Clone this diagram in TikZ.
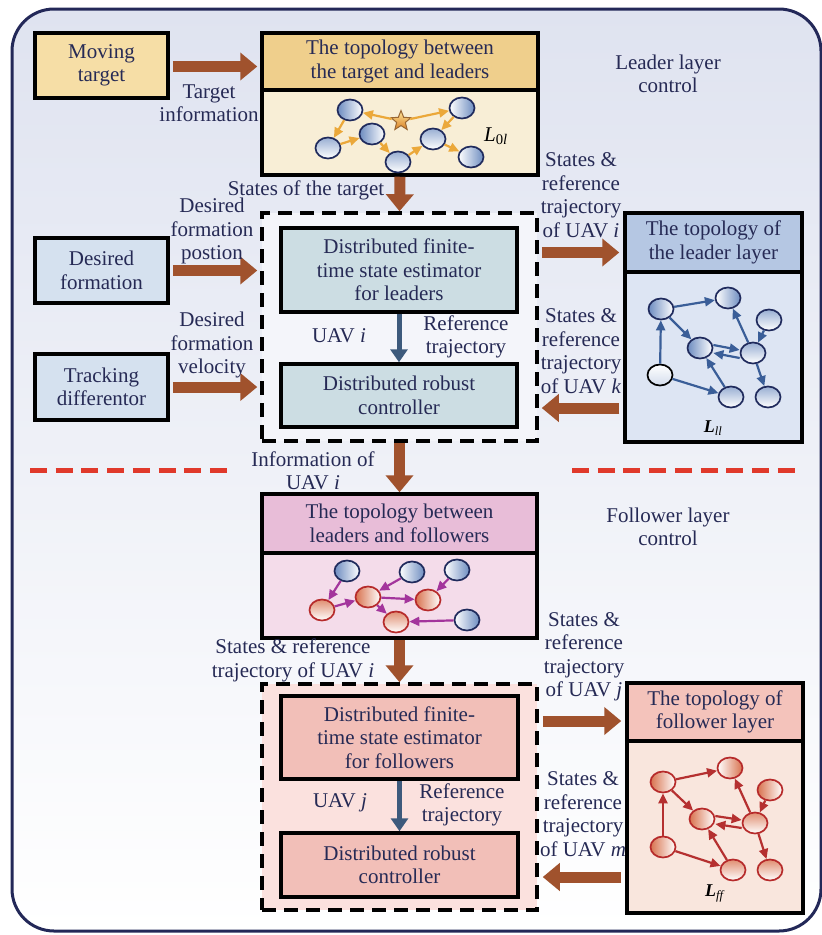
\documentclass[tikz,border=0pt]{standalone}
\usepackage{fontspec}
\setmainfont{Liberation Serif}
\usetikzlibrary{arrows.meta,positioning,calc,shapes.geometric}

\definecolor{navytxt}{HTML}{262A55}
\definecolor{framenavy}{HTML}{232858}
\definecolor{framefill}{HTML}{DFE3F0}
\definecolor{brownarr}{HTML}{A0522D}
\definecolor{steelarr}{HTML}{3D5A7C}
\definecolor{tanbox}{HTML}{F6DEA6}
\definecolor{tanhead}{HTML}{EFCF8C}
\definecolor{tanbody}{HTML}{F8EED6}
\definecolor{bluebox}{HTML}{D5E1EF}
\definecolor{tealbox}{HTML}{CCDDE3}
\definecolor{bluehead}{HTML}{B5C7E3}
\definecolor{bluebody}{HTML}{DDE5F3}
\definecolor{pinkhead}{HTML}{E8BDD8}
\definecolor{pinkbody}{HTML}{F4DCEA}
\definecolor{salmonbox}{HTML}{F2BFB8}
\definecolor{salmonhead}{HTML}{F4C3BB}
\definecolor{peachbody}{HTML}{F9E6DD}
\definecolor{rosefill}{HTML}{FBE1DE}
\definecolor{palefill}{HTML}{F4F5FA}
\definecolor{reddash}{HTML}{E0392B}
\definecolor{orangeedge}{HTML}{EBA83A}
\definecolor{blueedge}{HTML}{3A5E98}
\definecolor{purpleedge}{HTML}{A3359C}
\definecolor{rededge}{HTML}{B53030}
\definecolor{nodenavy}{HTML}{1F2A5C}
\definecolor{nodeshade}{HTML}{6D8CC0}
\definecolor{nodered}{HTML}{B62A2A}
\definecolor{redshade}{HTML}{D8724E}

\newcommand{\txtsz}{\fontsize{21}{23.5}\selectfont}

\begin{document}
\begin{tikzpicture}[x=1pt, y=-1pt,
  box/.style={draw=black, line width=3.5pt, align=center, inner sep=1pt, font=\txtsz, text=navytxt},
  dashbox/.style={draw=black, line width=3.5pt, dash pattern=on 14pt off 8pt},
  lbl/.style={align=center, font=\txtsz, text=navytxt, inner sep=0pt},
  bigarrow/.style={draw=brownarr, line width=11pt, -{Triangle[length=17pt,width=27pt]}},
  steelarrow/.style={draw=steelarr, line width=5pt, -{Triangle[length=13pt,width=17pt]}},
  bnode/.style={ellipse, draw=nodenavy, line width=1.7pt, minimum width=25pt, minimum height=21pt, inner sep=0pt, left color=nodeshade, right color=white},
  bnoder/.style={bnode, left color=white, right color=nodeshade},
  bnodet/.style={bnode, top color=nodeshade!70, bottom color=white},
  fnode/.style={bnode, draw=nodered, left color=redshade, right color=white},
  fnoder/.style={fnode, left color=white, right color=redshade},
  fnodet/.style={fnode, top color=redshade!80, bottom color=white},
  tedge/.style={draw=orangeedge, line width=2.2pt, -{Triangle[length=10pt,width=9pt]}},
  ledge/.style={draw=blueedge, line width=2.2pt, -{Triangle[length=10pt,width=9pt]}},
  pedge/.style={draw=purpleedge, line width=2.2pt, -{Triangle[length=10pt,width=9pt]}},
  fedge/.style={draw=rededge, line width=2.2pt, -{Triangle[length=10pt,width=9pt]}},
  gname/.style={font=\fontsize{18}{20}\selectfont, text=black, inner sep=0pt}
]
\useasboundingbox (0,0) rectangle (822,935);

% frame
\draw[line width=3pt, draw=framenavy, rounded corners=42pt, top color=framefill, bottom color=white]
  (12,9) rectangle (821,931);

% leader layer
\node[box, fill=tanbox, minimum width=133pt, minimum height=65pt] (mov) at (101.5,65.5) {Moving\\target};
\node[box, fill=tanhead, minimum width=276pt, minimum height=57pt] (tlhead) at (400,61.5) {The topology between\\the target and leaders};
\node[box, fill=tanbody, minimum width=276pt, minimum height=85pt] (tlbody) at (400,132.5) {};

\node[dashbox, fill=palefill, minimum width=275pt, minimum height=228pt] (ldash) at (399.5,327) {};
\node[box, fill=tealbox, minimum width=236pt, minimum height=84pt] (est) at (399,270) {Distributed finite-\\time state estimator\\for leaders};
\node[box, fill=tealbox, minimum width=236pt, minimum height=63pt] (ctrl) at (399,395.5) {Distributed robust\\controller};

\node[box, fill=bluebox, minimum width=133pt, minimum height=65pt] (desf) at (101.5,270.5) {Desired\\formation};
\node[box, fill=bluebox, minimum width=133pt, minimum height=66pt] (trk) at (101.5,387) {Tracking\\differentor};

\node[box, fill=bluehead, minimum width=177pt, minimum height=59pt] (llhead) at (713.5,242.5) {The topology of\\the leader layer};
\node[box, fill=bluebody, minimum width=177pt, minimum height=170pt] (llbody) at (713.5,357) {};

% target graph
\node[star, star points=5, star point ratio=2.3, draw=brown!80!black, line width=1pt, top color=yellow!50!orange!40, bottom color=brown!60!orange, minimum size=21pt, inner sep=0pt] (tgt) at (401,121) {};
\node[bnode] (ta) at (350,110) {};
\node[bnoder] (tb) at (462,108) {};
\node[bnodet] (tc) at (328,148) {};
\node[bnode] (td) at (372,134) {};
\node[bnodet] (te) at (398,162) {};
\node[bnodet] (tf) at (433,139) {};
\node[bnoder] (tg) at (471,157) {};
\draw[tedge] (tgt) -- (ta);
\draw[tedge] (tgt) -- (tb);
\draw[tedge] (ta) -- (tc);
\draw[tedge] (tc) -- (td);
\draw[tedge] (td) -- (te);
\draw[tedge] (te) -- (tf);
\draw[tedge] (tb) -- (tf);
\draw[tedge] (tf) -- (tg);
\node[gname, font=\fontsize{21}{22}\selectfont] (l0l) at (496,136) {\textit{L}\textsubscript{0\textit{l}}};

% leader layer graph
\node[bnode] (la) at (661,309) {};
\node[bnoder] (lb) at (728,298) {};
\node[bnodet] (lc) at (769,320) {};
\node[bnode] (ld) at (700,348) {};
\node[bnodet] (le) at (753,353) {};
\node[bnodet, draw=black, top color=white, bottom color=nodeshade!30] (lf) at (660,375) {};
\node[bnodet] (lg) at (731,397) {};
\node[bnodet] (lh) at (768,397) {};
\draw[ledge] (la) -- (lb);
\draw[ledge] (lf) -- (la);
\draw[ledge] (la) -- (ld);
\draw[ledge] ([yshift=3pt]ld.east) -- ([yshift=3pt]le.west);
\draw[ledge] ([yshift=-5pt]le.west) -- ([yshift=-5pt]ld.east);
\draw[ledge] (le) -- (lb);
\draw[ledge] (lc) -- (le);
\draw[ledge] (le) -- (lh);
\draw[ledge] (lf) -- (lg);
\draw[ledge] (lg) -- (ld);
\node[gname] (lll) at (713,428) {\textbf{\textit{L}}\textsubscript{\textit{ll}}};

% leader arrows
\draw[bigarrow, shorten <=3pt, shorten >=3pt] (mov.east |- tlhead) ++(0,5) -- ($(tlhead.west)+(0,5)$);
\draw[bigarrow] (tlbody.south) -- (ldash.north);
\draw[bigarrow, shorten <=3pt, shorten >=3pt] (desf.east) -- (desf.east -| ldash.west);
\draw[bigarrow, shorten <=3pt, shorten >=3pt] (trk.east) -- (trk.east -| ldash.west);
\draw[steelarrow] (est.south) -- (ctrl.north);
\draw[bigarrow, shorten <=3pt, shorten >=4pt] ($(ldash.east |- llhead.west)+(0,10)$) -- ($(llhead.west)+(0,10)$);
\draw[bigarrow, shorten <=4pt, shorten >=3pt] ($(llbody.west)+(0,51)$) -- ($(ldash.east |- llbody.west)+(0,51)$);

% leader labels
\node[lbl] (tinfo) at (209,103) {Target\\information};
\node[lbl] (tstates) at (306,190) {States of the target};
\node[lbl] (dpos) at (212,231) {Desired\\formation\\postion};
\node[lbl] (dvel) at (212,345) {Desired\\formation\\velocity};
\node[lbl] (uavi) at (339,336) {UAV \textit{i}};
\node[lbl] (rtraj) at (466,337) {Reference\\trajectory};
\node[lbl] (srti) at (581,195) {States \&\\reference\\trajectory\\of UAV \textit{i}};
\node[lbl] (srtk) at (581,351) {States \&\\reference\\trajectory\\of UAV \textit{k}};
\node[lbl] (llctl) at (668,74) {Leader layer\\control};

% separator
\draw[reddash, line width=5pt, dash pattern=on 17pt off 8.7pt] (30,470) -- (228,470);
\draw[reddash, line width=5pt, dash pattern=on 17pt off 8.7pt] (572,470) -- (800,470);

% follower layer
\node[box, fill=pinkhead, minimum width=275pt, minimum height=59pt] (lfhead) at (399.5,523.5) {The topology between\\leaders and followers};
\node[box, fill=pinkbody, minimum width=275pt, minimum height=85pt] (lfbody) at (399.5,595.5) {};

\node[dashbox, fill=rosefill, minimum width=275pt, minimum height=226pt] (fdash) at (399.5,797) {};
\node[box, fill=salmonbox, minimum width=237pt, minimum height=83pt] (fest) at (399.5,737.5) {Distributed finite-\\time state estimator\\for followers};
\node[box, fill=salmonbox, minimum width=237pt, minimum height=64pt] (fctrl) at (399.5,865) {Distributed robust\\controller};

\node[box, fill=salmonhead, minimum width=176pt, minimum height=58pt] (ffhead) at (715,712) {The topology of\\follower layer};
\node[box, fill=peachbody, minimum width=176pt, minimum height=172pt] (ffbody) at (715,827) {};

% leader-follower graph
\node[bnode] (pa) at (347,571) {};
\node[bnoder] (pb) at (412,572) {};
\node[bnoder] (pc) at (457,570) {};
\node[bnoder] (pd) at (467,620) {};
\node[fnodet] (pe) at (322,610) {};
\node[fnode] (pf) at (368,597) {};
\node[fnode] (pg) at (428,600) {};
\node[fnodet] (ph) at (396,622) {};
\draw[pedge] (pa) -- (pe);
\draw[pedge] (pb) -- (pf);
\draw[pedge] (pe) -- (pf);
\draw[pedge] (pf) -- (pg);
\draw[pedge] (pf) -- (ph);
\draw[pedge] (pc) -- (pg);
\draw[pedge] (pd) -- (ph);

% follower layer graph
\node[fnode] (fa) at (663,782) {};
\node[fnoder] (fb) at (730,768) {};
\node[fnode] (fc) at (770,790) {};
\node[fnode] (fd) at (702,819) {};
\node[fnodet] (fe) at (755,823) {};
\node[fnode] (ff) at (663,847) {};
\node[fnodet] (fg) at (733,870) {};
\node[fnodet] (fh) at (770,870) {};
\draw[fedge] (fa) -- (fb);
\draw[fedge] (ff) -- (fa);
\draw[fedge] (fa) -- (fd);
\draw[fedge] ([yshift=3pt]fd.east) -- ([yshift=3pt]fe.west);
\draw[fedge] ([yshift=-5pt]fe.west) -- ([yshift=-5pt]fd.east);
\draw[fedge] (fe) -- (fb);
\draw[fedge] (fc) -- (fe);
\draw[fedge] (fe) -- (fh);
\draw[fedge] (ff) -- (fg);
\draw[fedge] (fg) -- (fd);
\node[gname] (lff) at (715,893) {\textbf{\textit{L}}\textsubscript{\textit{ff}}};

% follower arrows
\draw[bigarrow] (ldash.south) -- (lfhead.north);
\draw[bigarrow] (lfbody.south) -- (fdash.north);
\draw[steelarrow] (fest.south) -- (fctrl.north);
\draw[bigarrow, shorten <=4pt, shorten >=4pt] ($(fdash.east |- ffhead.west)+(0,9)$) -- ($(ffhead.west)+(0,9)$);
\draw[bigarrow, shorten <=4pt, shorten >=4pt] ($(ffbody.west)+(0,50)$) -- ($(fdash.east |- ffbody.west)+(0,50)$);

% follower labels
\node[lbl] (infoi) at (313,471) {Information of\\UAV \textit{i}};
\node[lbl] (srti2) at (293,660.5) {States \& reference\\trajectory of UAV \textit{i}};
\node[lbl] (srtj) at (584,656.5) {States \&\\reference\\trajectory\\of UAV \textit{j}};
\node[lbl] (uavj) at (340,803) {UAV \textit{j}};
\node[lbl] (rtraj2) at (462,805) {Reference\\trajectory};
\node[lbl] (srtm) at (583,814) {States \&\\reference\\trajectory\\of UAV \textit{m}};
\node[lbl] (ffctl) at (668,527) {Follower layer\\control};
\end{tikzpicture}
\end{document}
